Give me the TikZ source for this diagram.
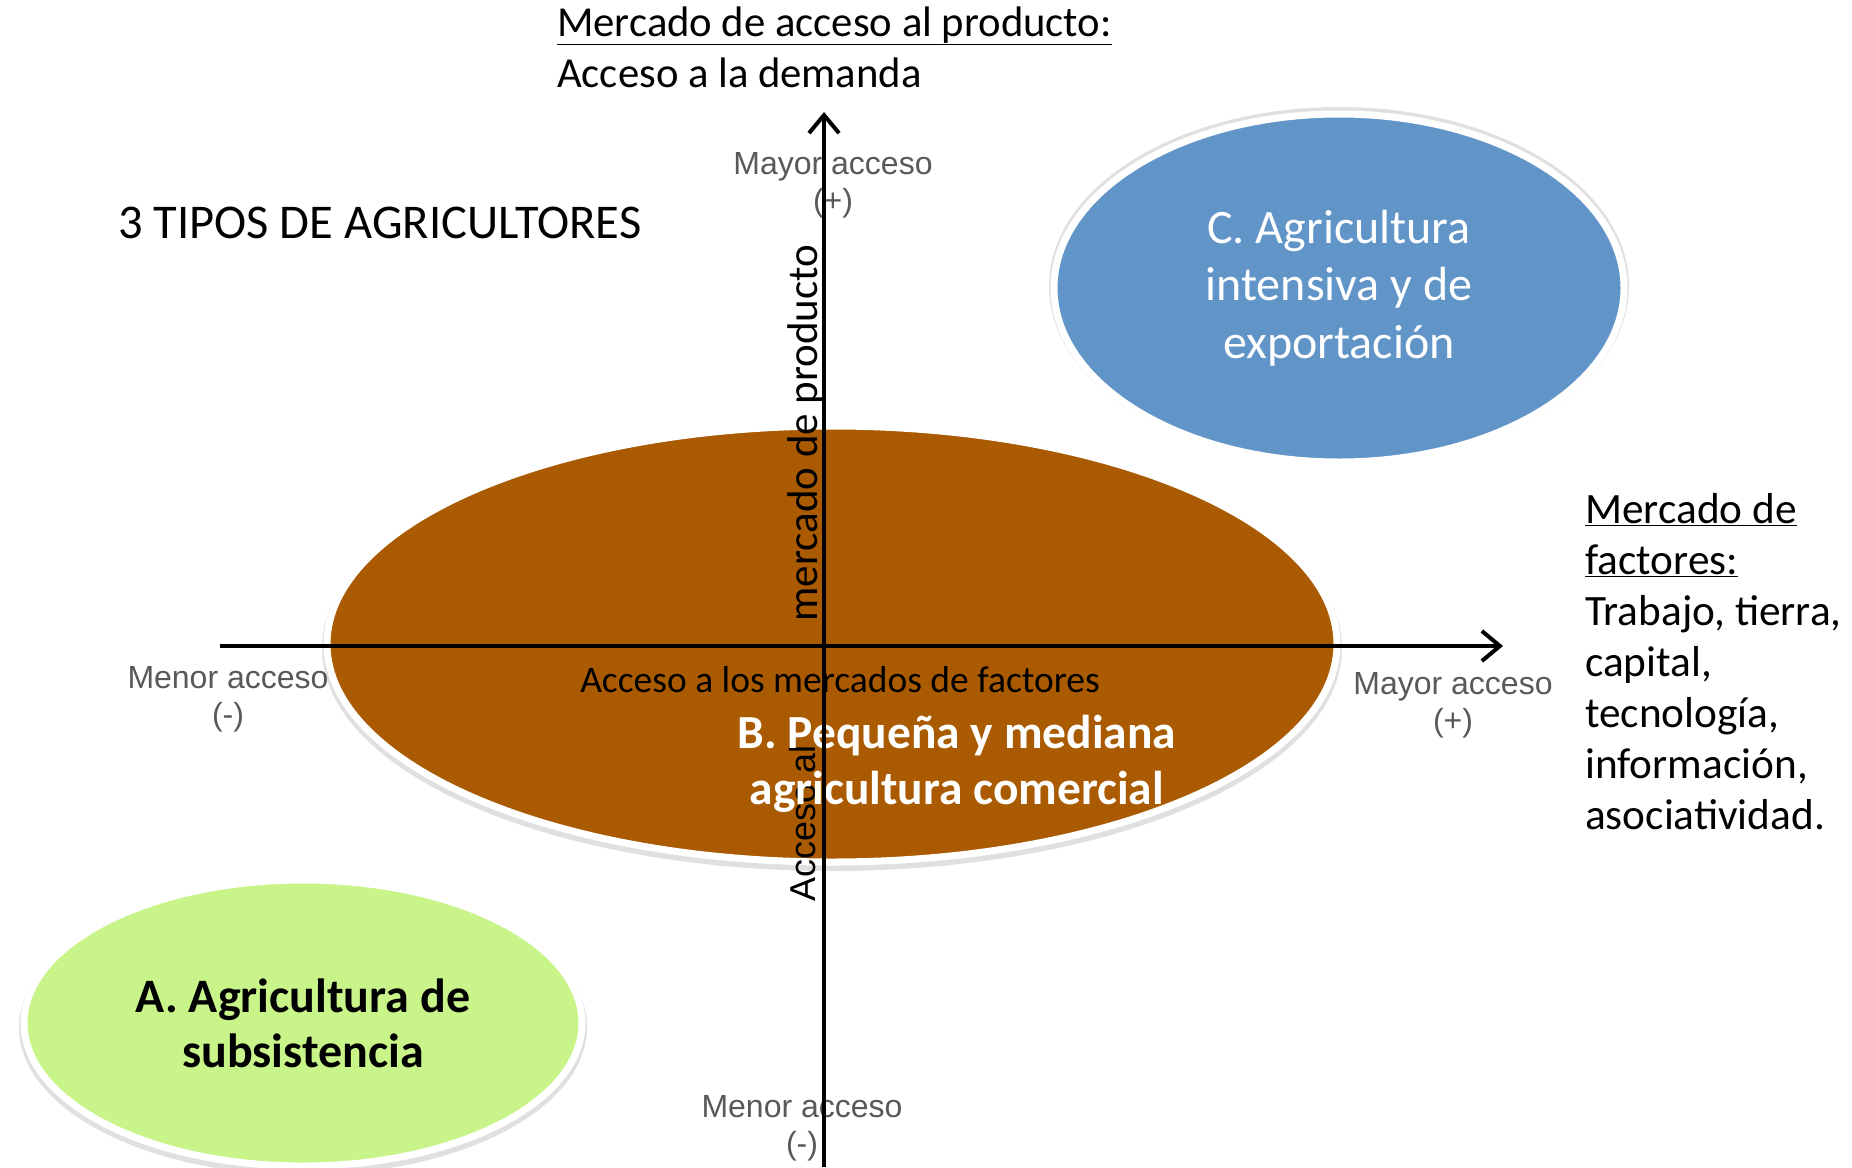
\documentclass[tikz,border=0pt]{standalone}
\usepackage{fontspec}
\setmainfont{Carlito}
\newfontfamily\arialf{Liberation Sans}
\usetikzlibrary{shapes.geometric,arrows.meta}
\definecolor{cblue}{HTML}{6195C8}
\definecolor{cbrown}{HTML}{AA5A00}
\definecolor{cgreen}{HTML}{C8F48A}
\definecolor{labgray}{HTML}{595959}
\begin{document}
\begin{tikzpicture}[x=1pt,y=-1pt,
  blob/.style={ellipse, draw=white, line width=7pt, inner sep=0pt, align=center},
  blobshadow/.style={ellipse, draw=black!12, line width=10pt, inner sep=0pt},
  graylab/.style={font=\arialf\fontsize{32}{37}\selectfont, text=labgray, align=center, inner sep=0pt},
  body/.style={font=\fontsize{42.7}{51}\selectfont, inner sep=0pt},
  axisline/.style={line width=4pt, -{Straight Barb[length=18pt,width=30pt,line width=4pt]}}
]
\useasboundingbox (0,0) rectangle (1852,1167);
% shadows
\node[blobshadow, minimum width=1010pt, minimum height=436pt] (Bsh) at (832,648) {};
\node[blobshadow, minimum width=570pt, minimum height=348pt] (Csh) at (1339,286) {};
\node[blobshadow, minimum width=558pt, minimum height=286pt] (Ash) at (303,1027) {};
% ellipses
\node[blob, fill=cbrown, minimum width=1010pt, minimum height=436pt] (B) at (832,644) {};
\node[blob, fill=cblue, minimum width=570pt, minimum height=348pt, text=white,
      font=\fontsize{48}{57.5}\selectfont] (C) at (1339,288)
      {C. Agricultura\\intensiva y de\\exportación};
\node[blob, fill=cgreen, minimum width=558pt, minimum height=286pt,
      font=\bfseries\fontsize{48}{55}\selectfont] (A) at (303,1023)
      {A. Agricultura de\\subsistencia};
% vertical axis title
\node[rotate=90, anchor=base, inner sep=0pt, font=\fontsize{43}{50}\selectfont] (vt1) at (817,433) {mercado de producto};
\node[rotate=90, anchor=base, inner sep=0pt, font=\arialf\fontsize{36}{40}\selectfont] (vt2) at (815,823) {Acceso al};
% horizontal axis title
\node[font=\fontsize{37.5}{44}\selectfont, inner sep=0pt] (ht) at (840,680) {Acceso a los mercados de factores};
% B label
\node[font=\bfseries\fontsize{47.5}{56}\selectfont, text=white, align=center, inner sep=0pt] (Bt) at (957,764) {B. Pequeña y mediana\\agricultura comercial};
% gray labels
\node[graylab] (ytop) at (833,185) {Mayor acceso\\(+)};
\node[graylab] (ybot) at (802,1128) {Menor acceso\\(-)};
\node[graylab] (xleft) at (228,699) {Menor acceso\\(-)};
\node[graylab] (xright) at (1453,705) {Mayor acceso\\(+)};
% axes
\coordinate (xl) at (220,646);
\coordinate (xr) at (1503,646);
\coordinate (yb) at (824,1167);
\coordinate (yt) at (824,112);
\draw[axisline] (xl) -- (xr);
\draw[axisline] (yb) -- (yt);
% texts
\node[body, anchor=west, align=left] (title) at (557,47) {\underline{Mercado de acceso al producto:}\\Acceso a la demanda};
\node[body, anchor=west, font=\fontsize{48.5}{56}\selectfont] (tipos) at (118,223) {3 TIPOS DE AGRICULTORES};
\node[body, anchor=west, align=left, font=\fontsize{43.3}{51}\selectfont] (fact) at (1585,662) {\underline{Mercado de}\\\underline{factores:}\\Trabajo, tierra,\\capital,\\tecnología,\\información,\\asociatividad.};
\end{tikzpicture}
\end{document}
